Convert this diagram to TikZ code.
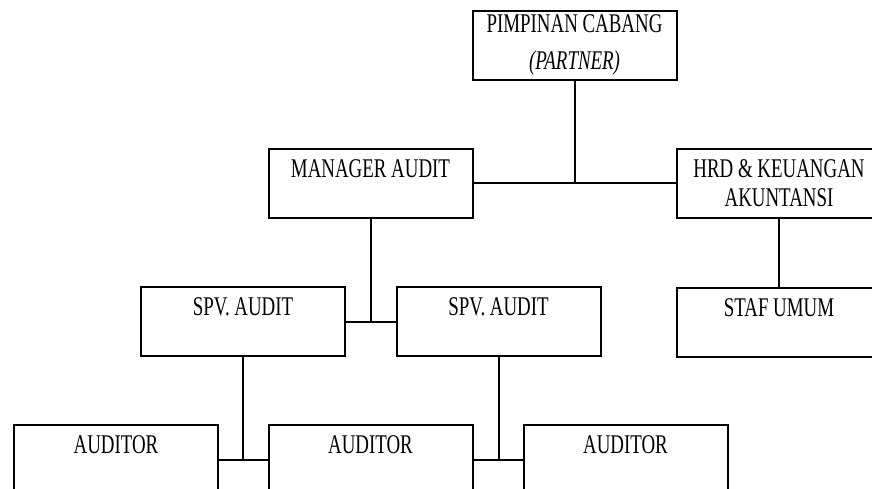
\documentclass[tikz,border=0pt]{standalone}
\usepackage{fontspec}
\setmainfont{Liberation Serif}[FakeStretch=0.7]
\begin{document}
\begin{tikzpicture}[
  x=0.5pt, y=-0.5pt,
  font=\fontsize{13.5pt}{14.5pt}\selectfont,
  unit/.style={draw, line width=1pt, rectangle, align=center,
               minimum width=102pt, minimum height=34.5pt,
               inner sep=0pt, outer sep=0pt},
  line/.style={draw, line width=1pt}
]
\clip (0,0) rectangle (872,488);

% top
\node[unit] (pimpinan) at (574.5,45) {PIMPINAN CABANG\\[4pt]\textit{(PARTNER)}};

% second row
\node[unit] (manager) at (370.5,183) {MANAGER AUDIT\\\mbox{}};
\node[unit] (hrd) at (779,183) {HRD \& KEUANGAN\\AKUNTANSI};

% third row
\node[unit] (spvA) at (243,321.5) {SPV. AUDIT\\\mbox{}};
\node[unit] (spvB) at (498.5,321.5) {SPV. AUDIT\\\mbox{}};
\node[unit] (staf) at (779,322) {STAF UMUM\\\mbox{}};

% bottom row
\node[unit] (audA) at (116,459.5) {AUDITOR\\\mbox{}};
\node[unit] (audB) at (370.5,459.5) {AUDITOR\\\mbox{}};
\node[unit] (audC) at (625.5,459.5) {AUDITOR\\\mbox{}};

% horizontal links between neighbours
\foreach \a/\b in {manager/hrd, spvA/spvB, audA/audB, audB/audC}
  \draw[line] (\a.east) -- (\b.west);

% vertical drops onto the horizontal links
\draw[line] (pimpinan.south) -- (pimpinan.south |- manager.east);
\draw[line] (manager.south) -- (manager.south |- spvA.east);
\draw[line] (spvA.south) -- (spvA.south |- audA.east);
\draw[line] (spvB.south) -- (spvB.south |- audB.east);
\draw[line] (hrd.south) -- (staf.north);
\end{tikzpicture}
\end{document}
